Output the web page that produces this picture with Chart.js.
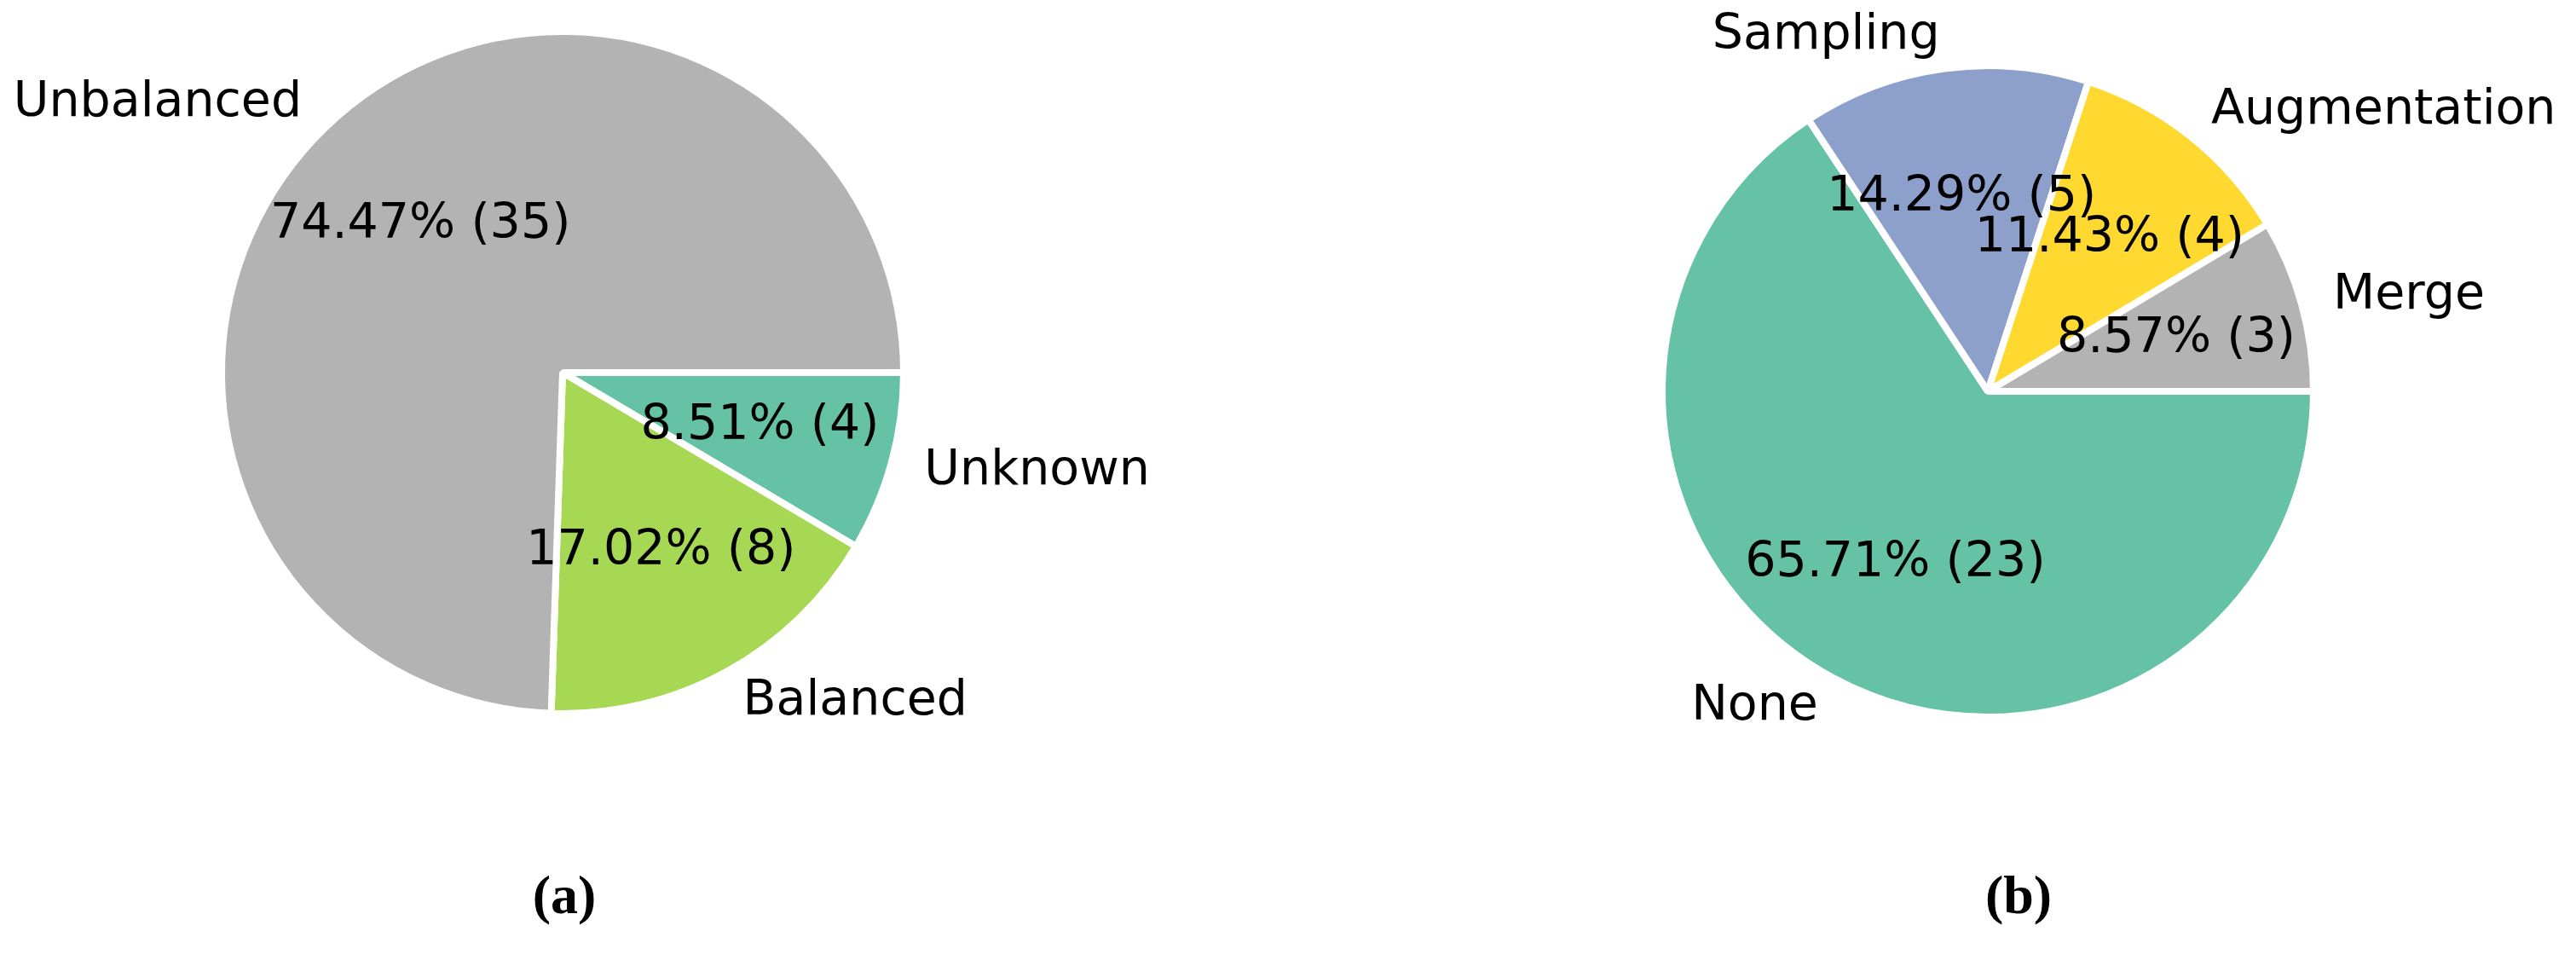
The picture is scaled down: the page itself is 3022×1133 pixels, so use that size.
<!DOCTYPE html>
<html>
<head>
<meta charset="utf-8">
<script src="https://cdn.jsdelivr.net/npm/chart.js@4/dist/chart.umd.min.js"></script>
<style>
  html, body { margin: 0; padding: 0; background: #fff; }
  body { width: 3022px; height: 1133px; position: relative; overflow: hidden; }
  canvas { position: absolute; }
  .sub { position: absolute; font: bold 64px "Liberation Serif", serif; color: #000; transform: translate(-50%, -50%); }
</style>
</head>
<body>
<canvas id="pieA" width="1500" height="1000" style="left:0;top:0"></canvas>
<canvas id="pieB" width="1122" height="1000" style="left:1900px;top:0"></canvas>
<div class="sub" style="left:662px;top:1050px">(a)</div>
<div class="sub" style="left:2368px;top:1050px">(b)</div>
<script>
// (a) class balance
const labelsA = ['Unknown', 'Balanced', 'Unbalanced'];
const countsA = [4, 8, 35];
const colorsA = ['#66c2a5', '#a6d854', '#b3b3b3'];

// (b) balancing technique
const labelsB = ['None', 'Sampling', 'Augmentation', 'Merge'];
const countsB = [23, 5, 4, 3];
const colorsB = ['#66c2a5', '#8da0cb', '#ffd92f', '#b3b3b3'];

// matplotlib style labels: names at 1.1 r, percentages at 0.6 r
const pieLabels = {
    id: 'pieLabels',
    afterDatasetsDraw(chart) {
        const ctx = chart.ctx;
        const ds = chart.data.datasets[0];
        const total = ds.data.reduce((a, b) => a + b, 0);
        ctx.save();
        ctx.font = '57px "DejaVu Sans"';
        ctx.fillStyle = '#000';
        ctx.textBaseline = 'middle';
        chart.getDatasetMeta(0).data.forEach((arc, i) => {
            const { x, y, startAngle, endAngle, outerRadius } =
                arc.getProps(['x', 'y', 'startAngle', 'endAngle', 'outerRadius'], true);
            const mid = (startAngle + endAngle) / 2;
            const c = Math.cos(mid), s = Math.sin(mid);

            ctx.textAlign = c > 0 ? 'left' : 'right';
            ctx.fillText(chart.data.labels[i], x + c * outerRadius * 1.1, y + s * outerRadius * 1.1);

            const v = ds.data[i];
            ctx.textAlign = 'center';
            ctx.fillText(`${(v / total * 100).toFixed(2)}% (${v})`, x + c * outerRadius * 0.6, y + s * outerRadius * 0.6);
        });
        ctx.restore();
    }
};

function makePie(id, labels, counts, colors, radius, padding) {
    return new Chart(document.getElementById(id), {
        type: 'pie',
        data: {
            labels: labels,
            datasets: [{
                data: counts,
                backgroundColor: colors,
                borderColor: '#ffffff',
                borderWidth: 8,
                offset: 0,
                hoverOffset: 0,
                radius: radius
            }]
        },
        options: {
            responsive: false,
            animation: false,
            devicePixelRatio: 1,
            rotation: 90,
            layout: { padding: padding },
            plugins: {
                legend: { display: false },
                tooltip: { enabled: false }
            },
            events: []
        },
        plugins: [pieLabels]
    });
}

makePie('pieA', labelsA, countsA, colorsA, 400, { left: 0, top: 0, right: 180, bottom: 126 });
makePie('pieB', labelsB, countsB, colorsB, 382, { left: 0, top: 0, right: 258, bottom: 82 });
</script>
</body>
</html>
